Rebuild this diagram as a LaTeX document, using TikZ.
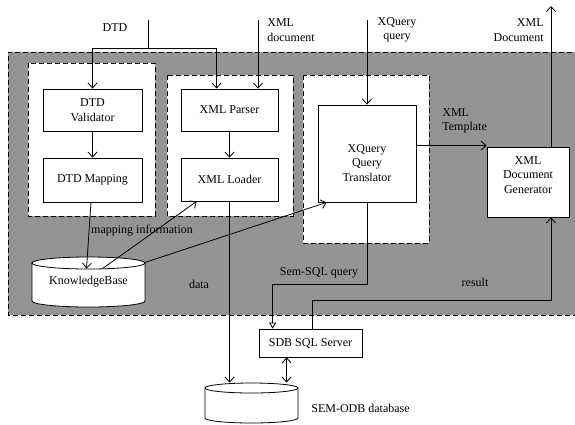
\documentclass[tikz,border=0pt]{standalone}
\usepackage{fontspec}
\setmainfont{Liberation Serif}
\usetikzlibrary{arrows.meta,calc}
\begin{document}
\begin{tikzpicture}[>={Straight Barb[length=5pt,width=9pt]}, x=1pt, y=-1pt, line width=0.8pt,
    font=\fontsize{12}{14.5}\selectfont]
      \tikzset{box/.style={draw, fill=white, inner sep=2pt, align=center},
               panel/.style={draw, fill=white, dash pattern=on 5pt off 3pt, line width=1pt},
               store/.style={inner sep=0pt},
               lbl/.style={inner sep=1pt}}
      \useasboundingbox (0,0) rectangle (575,424);
      \fill[black!42] (8,52) rectangle (580,315);
      \draw[dash pattern=on 5pt off 3pt, line width=1pt] (580,52) -- (8,52) -- (8,315) -- (580,315);
      \path[panel] (28,63) rectangle (155,216);
      \path[panel] (167,75) rectangle (293,216);
      \path[panel] (303,75) rectangle (429,243);

      \node[box, minimum width=99, minimum height=42] (val) at (92.5,110) {DTD\\Validator};
      \node[box, minimum width=99, minimum height=44] (map) at (92.5,180) {DTD Mapping};
      \node[box, minimum width=97, minimum height=42] (par) at (229.5,110) {XML Parser};
      \node[box, minimum width=97, minimum height=43] (load) at (229.5,179.5) {XML Loader};
      \node[box, minimum width=98, minimum height=97] (tr) at (367,153.5) {\mbox{}\\[12pt]XQuery\\Query\\Translator};
      \node[box, minimum width=82, minimum height=70] (gen) at (528,182) {XML\\Document\\Generator\\\mbox{}};
      \node[box, minimum width=103, minimum height=28] (sdb) at (310.5,343) {SDB SQL Server};

      \filldraw[fill=white] (32,263) -- (32,301) arc[start angle=180, end angle=0, x radius=56.5, y radius=6] -- (145,263);
      \filldraw[fill=white] (88.5,263) ellipse[x radius=56.5, y radius=6];
      \node[store, minimum width=113, minimum height=50] (kb) at (88.5,282) {KnowledgeBase};
      \filldraw[fill=white] (205,388) -- (205,418) arc[start angle=180, end angle=0, x radius=46.5, y radius=5] -- (298,388);
      \filldraw[fill=white] (251.5,388) ellipse[x radius=46.5, y radius=5];
      \node[store, minimum width=93, minimum height=40] (db) at (251.5,403) {};

      \coordinate (dtdin) at (148,20);
      \coordinate (dtdsplit) at (148,48);
      \coordinate (xmlin) at (258,20);
      \coordinate (xqin) at (367,20);
      \coordinate (xmlout) at (551,6);

      \node[lbl] (dtdlbl) at (115,28) {DTD};
      \node[lbl, anchor=west, align=left] (xmllbl) at (266,30) {XML\\document};
      \node[lbl, align=center] (xqlbl) at (397,30) {XQuery\\query};
      \node[lbl, anchor=east, align=right] (outlbl) at (545,30) {XML\\Document};
      \node[lbl, anchor=west, align=left] (tmpllbl) at (441,121) {XML\\Template};
      \node[lbl] (maplbl) at (142,231) {mapping information};
      \node[lbl] (datalbl) at (199,284) {data};
      \node[lbl] (sqllbl) at (319,273) {Sem-SQL query};
      \node[lbl] (reslbl) at (475,282) {result};
      \node[lbl, anchor=west] (dblbl) at (310,408) {SEM-ODB database};

      \draw (dtdin) -- (dtdsplit);
      \draw[->] (dtdsplit) -| (val.north);
      \draw[->] (dtdsplit) -| ($(par.north west)+(36,0)$);
      \draw[->] (xmlin) -- (xmlin |- par.north);
      \draw[->] (xqin) -- (tr.north);
      \draw[->] (gen.north -| xmlout) -- (xmlout);
      \draw[->] (val) -- (map);
      \draw[->] (par) -- (load);
      \draw[->] (map) -- ($(kb.north)+(-2,12)$);
      \draw[->] ($(kb.north)+(14,12)$) -- ($(load.south west)+(16,0)$);
      \draw[->] ($(kb.north)+(56,6)$) -- ($(tr.south west)+(9,0)$);
      \draw[->] ($(tr.north east)+(0,41)$) coordinate (trout) -- (trout -| gen.west);
      \draw[->] (load) -- (load |- db.north);
      \draw[-{Triangle[open,length=6pt,width=7pt]}] (tr.south) -- ++(0,82) -| ($(sdb.north west)+(14,0)$);
      \draw[->] ($(sdb.north)+(2,0)$) -- ++(0,-28) -| (gen.south -| xmlout);
      \draw[<->] ($(sdb.south west)+(28,0)$) coordinate (sdbdb) -- (sdbdb |- db.north);
    \end{tikzpicture}
\end{document}
